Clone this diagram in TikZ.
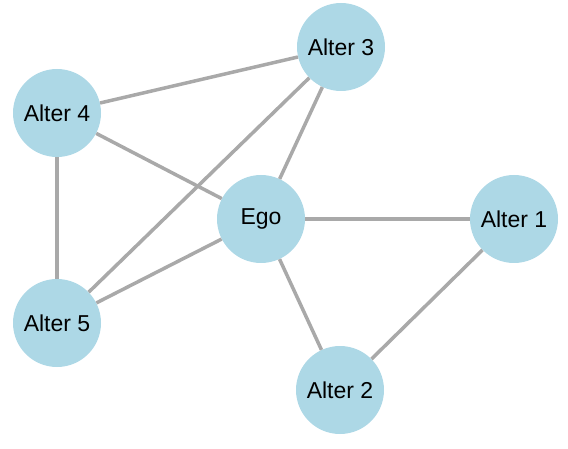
\documentclass[tikz,border=0pt]{standalone}
\usepackage{fontspec}
\setmainfont{Liberation Sans}
\usepackage{xcolor}
\usepackage{tikz}
\definecolor{nodeblue}{RGB}{173,216,230}
\definecolor{tiegray}{RGB}{169,169,169}
\tikzset{
  person/.style={
    circle,
    fill=nodeblue,
    draw=none,
    minimum size=88pt,
    inner sep=0pt,
    font=\fontsize{23}{26}\selectfont
  },
  tie/.style={
    line width=3.5pt,
    draw=tiegray
  }
}

\begin{document}
\begin{tikzpicture}[x=1pt, y=-1pt]
  \useasboundingbox (0,0) rectangle (568,449);
  \node[person] (ego) at (261,219) {Ego};
  \node[person] (alter1) at (514,219) {Alter 1};
  \node[person] (alter2) at (340,390) {Alter 2};
  \node[person] (alter3) at (341,47) {Alter 3};
  \node[person] (alter4) at (57,113) {Alter 4};
  \node[person] (alter5) at (57,323) {Alter 5};
  % ties end at the circle borders
  \draw[tie] (alter4) -- (alter3);
  \draw[tie] (alter4) -- (ego);
  \draw[tie] (alter4) -- (alter5);
  \draw[tie] (alter3) -- (ego);
  \draw[tie] (alter3) -- (alter5);
  \draw[tie] (ego) -- (alter5);
  \draw[tie] (ego) -- (alter1);
  \draw[tie] (ego) -- (alter2);
  \draw[tie] (alter1) -- (alter2);
\end{tikzpicture}
\end{document}
